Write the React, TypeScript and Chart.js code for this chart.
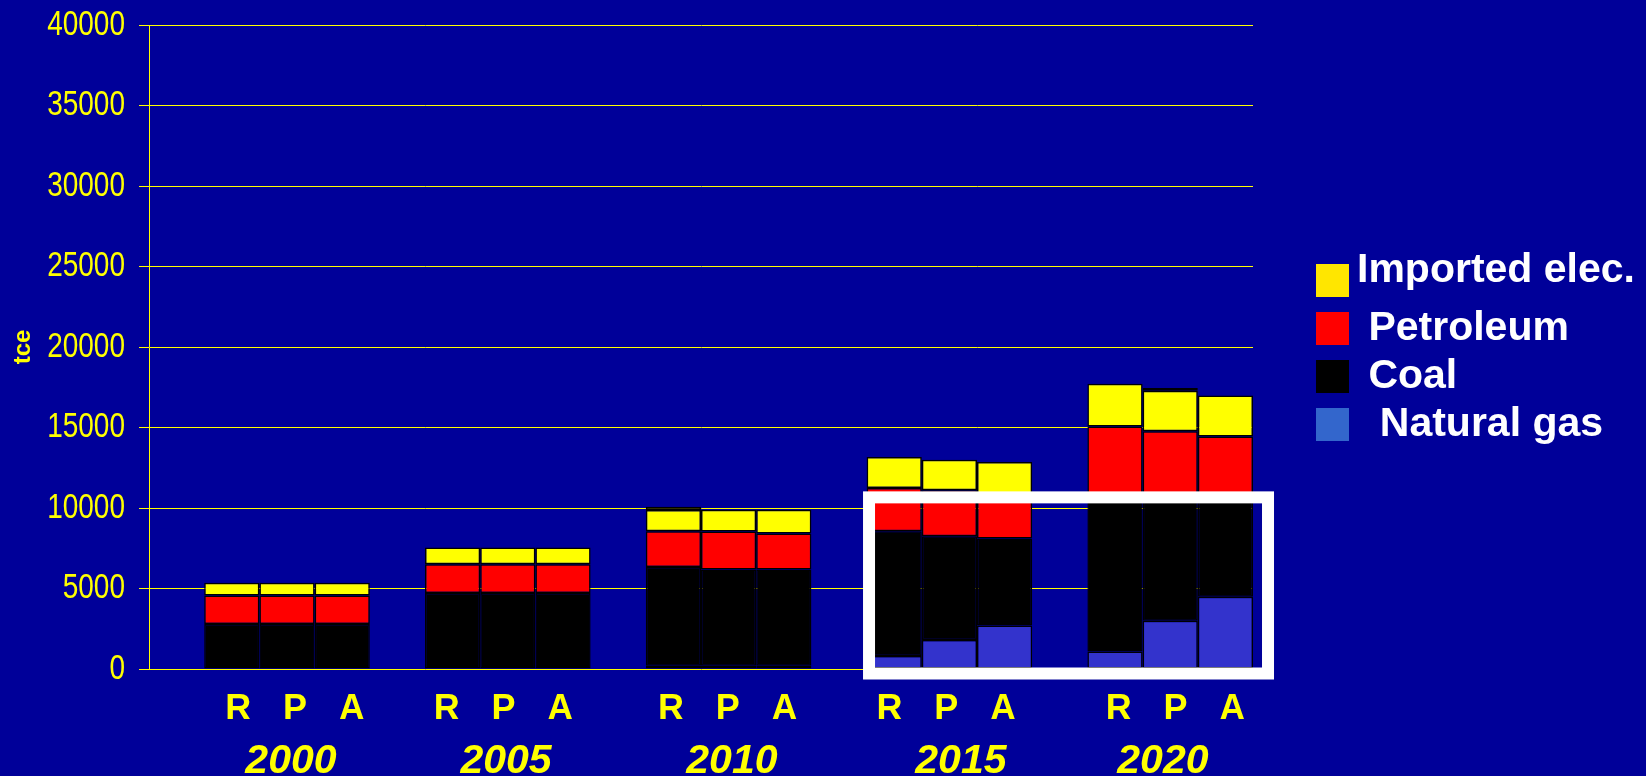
import React, { useEffect, useRef } from "react";
import { Chart, registerables } from "chart.js";

Chart.register(...registerables);

// ---- data ----
const years = ["2000", "2005", "2010", "2015", "2020"];
const scenarios = ["R", "P", "A"];
const yAxisTitle = "tce";

const gasR = [0, 0, 200, 800, 1080];
const gasP = [0, 0, 200, 1800, 2990];
const gasA = [0, 0, 200, 2700, 4480];

const coalR = [2800, 4720, 6140, 7760, 9620];
const coalP = [2800, 4720, 5980, 6450, 7560];
const coalA = [2800, 4720, 5980, 5410, 5970];

const petroleumR = [1760, 1780, 2220, 2680, 4360];
const petroleumP = [1760, 1780, 2360, 2860, 4210];
const petroleumA = [1760, 1780, 2230, 2790, 3990];

const importedElecR = [800, 1040, 1310, 1920, 2660];
const importedElecP = [800, 1040, 1350, 1890, 2530];
const importedElecA = [800, 1040, 1480, 1950, 2550];

const otherR = [0, 0, 200, 0, 0];
const otherP = [0, 0, 0, 0, 170];
const otherA = [0, 0, 0, 0, 0];

const legendLabels = ["Imported elec.", " Petroleum", " Coal", "  Natural gas"];
const legendColors = ["#FFE600", "#FF0000", "#000000", "#3366CC"];

// label placement nudges (in x-axis units, one per year group) — layout only
const scenarioLabelSpread = 0.257;
const scenarioLabelShift = [0.036, -0.02, -0.004, -0.014, 0.024];
const yearLabelShift = [0.018, -0.008, 0.015, 0.052, -0.033];

// highlighted region (data units: x = year index, y = tce)
const highlightX = [2.636, 4.443];
const highlightY = [-280, 10660];

const seriesDefs = [
  { label: "Natural gas", fill: "#3333CC", values: [gasR, gasP, gasA] },
  { label: "Coal", fill: "#000000", values: [coalR, coalP, coalA] },
  { label: "Petroleum", fill: "#FF0000", values: [petroleumR, petroleumP, petroleumA] },
  { label: "Imported elec.", fill: "#FFFF00", values: [importedElecR, importedElecP, importedElecA] },
  { label: "Other", fill: "#000000", values: [otherR, otherP, otherA] },
];

const FONT = "'Liberation Sans', Arial, sans-serif";
const YELLOW = "#FFFF00";
const X_MIN = -0.625;
const X_MAX = 4.375;

const highlightPlugin = {
  id: "highlightBox",
  afterDatasetsDraw(chart: any) {
    const { ctx, scales } = chart;
    const xs = scales.x;
    const ys = scales.y;
    const x0 = xs.getPixelForValue(highlightX[0]);
    const x1 = xs.getPixelForValue(highlightX[1]);
    const y0 = ys.getPixelForValue(highlightY[1]);
    const y1 = ys.getPixelForValue(highlightY[0]);
    ctx.save();
    ctx.strokeStyle = "#FFFFFF";
    ctx.lineWidth = 12;
    ctx.strokeRect(x0, y0, x1 - x0, y1 - y0);
    ctx.restore();
  },
};

// narrow (Arial-Narrow-like) value labels for the y axis, placed from the axis' own ticks
const narrowYLabelsPlugin = {
  id: "narrowYLabels",
  afterDraw(chart: any) {
    const { ctx } = chart;
    const ys = chart.scales.y;
    const tickLength = 10;
    const pad = 14;
    ctx.save();
    ctx.font = `35px ${FONT}`;
    ctx.fillStyle = YELLOW;
    ctx.textAlign = "right";
    ctx.textBaseline = "middle";
    ys.ticks.forEach((t: any) => {
      const y = ys.getPixelForValue(t.value);
      ctx.save();
      ctx.translate(ys.right - tickLength - pad, y);
      ctx.scale(0.8, 1);
      ctx.fillText(String(t.value), 0, 0);
      ctx.restore();
    });
    ctx.restore();
  },
};

const legendPlugin = {
  id: "sideLegend",
  afterDraw(chart: any) {
    const { ctx } = chart;
    const boxX = 1316;
    const boxTop = 264;
    const pitch = 48;
    const size = 33;
    const textYOffsets = [-10, 0, 0, 0];
    ctx.save();
    ctx.font = `bold 41px ${FONT}`;
    ctx.textBaseline = "middle";
    ctx.textAlign = "left";
    legendLabels.forEach((label, i) => {
      const y = boxTop + i * pitch;
      ctx.fillStyle = legendColors[i];
      ctx.fillRect(boxX, y, size, size);
      ctx.fillStyle = "#FFFFFF";
      ctx.fillText(label, boxX + size + 8, y + size / 2 + textYOffsets[i]);
    });
    ctx.restore();
  },
};

export default function App() {
  const canvasRef = useRef<HTMLCanvasElement | null>(null);

  useEffect(() => {
    const canvas = canvasRef.current;
    if (!canvas) return;

    const datasets: any[] = [];
    scenarios.forEach((s, si) => {
      seriesDefs.forEach((def) => {
        datasets.push({
          label: def.label,
          stack: s,
          xAxisID: "x",
          yAxisID: "y",
          data: def.values[si].map((v, i) => ({ x: i, y: v })),
          backgroundColor: def.fill,
          borderColor: "#000000",
          borderWidth: 1.5,
          borderSkipped: false,
          categoryPercentage: 0.75,
          barPercentage: 1,
        });
      });
    });

    const chart = new Chart(canvas, {
      type: "bar",
      data: { datasets },
      plugins: [highlightPlugin, narrowYLabelsPlugin, legendPlugin],
      options: {
        animation: false,
        responsive: false,
        maintainAspectRatio: false,
        layout: { padding: { top: 25, right: 393, left: 0, bottom: 0 } },
        plugins: {
          legend: { display: false },
          tooltip: { enabled: false },
          title: { display: false },
        },
        scales: {
          // value axis for the bars (one unit per year group); labels are on the axes below
          x: {
            type: "linear",
            position: "bottom",
            display: false,
            min: X_MIN,
            max: X_MAX,
            offset: false,
            afterBuildTicks: (scale: any) => {
              scale.ticks = years.map((_, i) => ({ value: i }));
            },
          },
          xRPA: {
            type: "linear",
            position: "bottom",
            weight: 0,
            min: X_MIN,
            max: X_MAX,
            offset: false,
            grid: { display: false, drawTicks: false },
            border: { display: false },
            afterBuildTicks: (scale: any) => {
              const t: any[] = [];
              years.forEach((_, i) => {
                [-1, 0, 1].forEach((k) =>
                  t.push({ value: i + scenarioLabelShift[i] + k * scenarioLabelSpread })
                );
              });
              scale.ticks = t;
            },
            afterFit: (scale: any) => {
              scale.height = 50;
            },
            ticks: {
              autoSkip: false,
              maxRotation: 0,
              minRotation: 0,
              padding: 19,
              color: YELLOW,
              font: { family: FONT, size: 36, weight: "bold" },
              callback: (_v: any, index: number) => scenarios[index % 3],
            },
          },
          xYear: {
            type: "linear",
            position: "bottom",
            weight: 1,
            min: X_MIN,
            max: X_MAX,
            offset: false,
            grid: { display: false, drawTicks: false },
            border: { display: false },
            afterBuildTicks: (scale: any) => {
              scale.ticks = years.map((_, i) => ({ value: i + yearLabelShift[i] }));
            },
            afterFit: (scale: any) => {
              scale.height = 57;
            },
            ticks: {
              autoSkip: false,
              maxRotation: 0,
              minRotation: 0,
              padding: 18,
              color: YELLOW,
              font: { family: FONT, size: 41, weight: "bold", style: "italic" },
              callback: (_v: any, index: number) => years[index],
            },
          },
          y: {
            type: "linear",
            position: "left",
            stacked: true,
            min: 0,
            max: 40000,
            afterFit: (scale: any) => {
              scale.width = 149;
            },
            grid: {
              color: YELLOW,
              lineWidth: 1,
              drawTicks: true,
              tickLength: 10,
            },
            border: { display: true, color: YELLOW, width: 1 },
            ticks: {
              stepSize: 5000,
              display: false,
            },
            title: {
              display: true,
              text: yAxisTitle,
              color: YELLOW,
              font: { family: FONT, size: 24, weight: "bold" },
              padding: { top: 9, bottom: 0 },
            },
          },
        },
      } as any,
    });

    return () => {
      chart.destroy();
    };
  }, []);

  return (
    <div
      style={{
        position: "fixed",
        left: 0,
        top: 0,
        width: 1646,
        height: 776,
        background: "#000099",
        overflow: "hidden",
      }}
    >
      <canvas ref={canvasRef} width={1646} height={776} style={{ display: "block" }} />
    </div>
  );
}
